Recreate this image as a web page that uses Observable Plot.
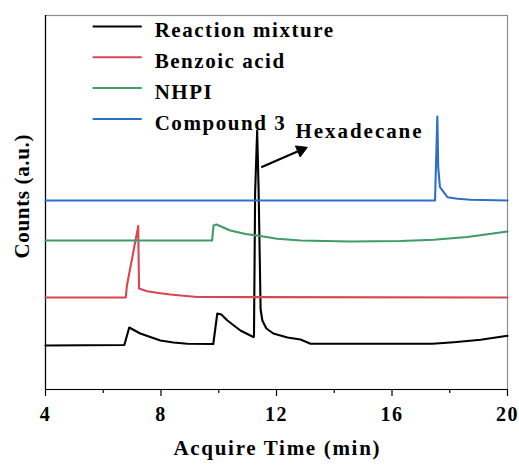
<!DOCTYPE html>
<html>
<head>
<meta charset="utf-8">
<script src="https://cdn.jsdelivr.net/npm/d3@7"></script>
<script src="https://cdn.jsdelivr.net/npm/@observablehq/plot@0.6"></script>
<style>
  body { margin: 0; background: #fff; }
  #chart svg { display: block; }
</style>
</head>
<body>
<div id="chart"></div>
<script>
// Chromatogram traces: acquire time (min) vs. detector counts (a.u., offset per trace)
const seriesNames = ["Reaction mixture", "Benzoic acid", "NHPI", "Compound 3"];
const seriesColors = ["#000000", "#d6474f", "#3f9b67", "#2f6fcc"];

const reactionTime   = [4.00, 6.73, 6.90, 7.28, 7.98, 8.43, 8.91, 9.81, 9.95, 10.09, 10.30, 10.75, 11.20, 11.22, 11.26, 11.33, 11.38, 11.45, 11.51, 11.65, 11.89, 12.38, 12.83, 13.18, 17.40, 18.14, 19.07, 20.00];
const reactionCounts = [44,   44.5, 62,   56,   49,   47,   45.7, 45.5, 76,   75,    69,    59,    52.5,  53,    197,   259,   200,   80,    69,    61,    56,    52,    50,    45.7,  45.7,  47.3,  49.7,  53.7];

const benzoicTime    = [4.00, 6.78, 6.82, 7.19, 7.21, 7.24, 7.52, 7.98, 8.32, 9.25, 20.00];
const benzoicCounts  = [92,   92,   104,  160,  163.5, 101, 98.3, 96.3, 95,   92.5, 92];

const nhpiTime       = [4.00, 9.77, 9.82, 9.92, 10.40, 10.93, 11.33, 12.02, 12.83, 14.56, 16.30, 17.44, 18.61, 20.00];
const nhpiCounts     = [149,  149,  164,  165,  159,   155.5, 154,   150.7, 149,   148,   148.5, 149.7, 152.5, 158];

const compoundTime   = [4.00, 17.49, 17.57, 17.60, 17.66, 17.92, 18.27, 18.73, 20.00];
const compoundCounts = [189,  189,   273,   222.3, 202.3, 192.3, 190.7, 189.7, 189];

const xTicks = [4, 8, 12, 16, 20];
const xMinorTicks = [6, 10, 14, 18];
const xDomain = [4, 20];
const yDomain = [0, 374];

const peakLabel = "Hexadecane";
const peakArrow = {t1: 11.47, c1: 222.3, t2: 13.0, c2: 241.3};
const peakLabelAt = {t: 12.66, c: 258};

const xTitle = "Acquire Time (min)";
const yTitle = "Counts (a.u.)";

// frame geometry
const W = 519, H = 466;
const mL = 45, mR = 12, mT = 15, mB = 77;

// legend placement inside the frame (data units)
const legendX1 = 5.65, legendX2 = 7.35, legendTextX = 7.78;
const legendTop = 363, legendStep = 30.8;

const traces = [
  [reactionTime, reactionCounts],
  [benzoicTime, benzoicCounts],
  [nhpiTime, nhpiCounts],
  [compoundTime, compoundCounts]
];
const rows = traces.flatMap(([ts, cs], i) =>
  ts.map((t, j) => ({series: seriesNames[i], t, c: cs[j]}))
);

const legendY = (d, i) => legendTop - i * legendStep;

// filled arrowhead: a triangle symbol rotated along the arrow direction
const kx = (W - mL - mR) / (xDomain[1] - xDomain[0]);   // px per minute
const ky = (H - mT - mB) / (yDomain[1] - yDomain[0]);   // px per count
const adx = (peakArrow.t2 - peakArrow.t1) * kx;
const ady = -(peakArrow.c2 - peakArrow.c1) * ky;
const alen = Math.hypot(adx, ady);
const ux = adx / alen, uy = ady / alen;
const headBack = 4.8; // px from tip to triangle centroid
const head = {
  t: peakArrow.t2 - (ux * headBack) / kx,
  c: peakArrow.c2 + (uy * headBack) / ky,
  angle: 90 + Math.atan2(uy, ux) * 180 / Math.PI
};
const shaftEnd = {
  t: peakArrow.t2 - (ux * 8) / kx,
  c: peakArrow.c2 + (uy * 8) / ky
};

const chart = Plot.plot({
  width: W,
  height: H,
  marginLeft: mL,
  marginRight: mR,
  marginTop: mT,
  marginBottom: mB,
  style: {fontFamily: "'Liberation Serif', 'Times New Roman', serif", fontWeight: "bold", background: "#fff", color: "#000"},
  x: {domain: xDomain},
  y: {domain: yDomain, axis: null},
  color: {domain: seriesNames, range: seriesColors},
  marks: [
    Plot.frame({stroke: "#8c8c8c", strokeWidth: 1.2}),
    Plot.ruleX([xDomain[0]], {stroke: "#000", strokeWidth: 1.2}),
    Plot.ruleY([yDomain[0]], {stroke: "#000", strokeWidth: 1.2}),
    Plot.axisX({ticks: xMinorTicks, tickSize: 4, text: null, label: null, strokeWidth: 1.2}),
    Plot.axisX({ticks: xTicks, tickSize: 7, tickPadding: 10, fontSize: 20, label: null, strokeWidth: 1.2}),
    Plot.line(rows, {x: "t", y: "c", z: "series", stroke: "series", strokeWidth: 2.1, curve: "linear"}),
    Plot.link([{t1: peakArrow.t1, c1: peakArrow.c1, t2: shaftEnd.t, c2: shaftEnd.c}], {x1: "t1", y1: "c1", x2: "t2", y2: "c2", stroke: "#000", strokeWidth: 2.2}),
    Plot.dot([head], {x: "t", y: "c", symbol: "triangle", r: 4.5, fill: "#000", stroke: "#000", strokeWidth: 0.8, rotate: "angle"}),
    Plot.text([peakLabel], {x: peakLabelAt.t, y: peakLabelAt.c, text: d => d, textAnchor: "start", fontSize: 21, ariaLabel: () => "peak label"}),
    Plot.ruleY(seriesNames, {y: legendY, x1: legendX1, x2: legendX2, stroke: d => d, strokeWidth: 2}),
    Plot.text(seriesNames, {x: legendTextX, y: legendY, text: d => d, textAnchor: "start", fontSize: 21, dy: 4, ariaLabel: () => "legend label"}),
    Plot.text([xTitle], {frameAnchor: "bottom", dy: 65, text: d => d, fontSize: 21, ariaLabel: () => "x title"}),
    Plot.text([yTitle], {frameAnchor: "left", textAnchor: "middle", dx: -23, dy: -6, rotate: -90, text: d => d, fontSize: 21, ariaLabel: () => "y title"})
  ]
});

document.getElementById("chart").append(chart);

// fit the bold serif lettering so each group's longest line spans the given length
const spread = [
  ["x-axis tick label", 23],
  ["legend label", 180]
];
for (const [label, span] of spread) {
  const sel = d3.select(chart).selectAll(`g[aria-label="${label}"] text, text[aria-label="${label}"]`);
  let best = null;
  sel.each(function () {
    const len = this.getComputedTextLength();
    if (!best || len > best.len) best = {len, n: this.textContent.length};
  });
  if (!best) continue;
  sel.style("letter-spacing", `${Math.max(0, (span - best.len) / best.n)}px`);
}

// single-line titles are set to an exact run length
const runs = [
  ["peak label", 126],
  ["x title", 206],
  ["y title", 124]
];
for (const [label, span] of runs) {
  d3.select(chart)
    .selectAll(`text[aria-label="${label}"]`)
    .attr("textLength", span)
    .attr("lengthAdjust", "spacing");
}
</script>
</body>
</html>
